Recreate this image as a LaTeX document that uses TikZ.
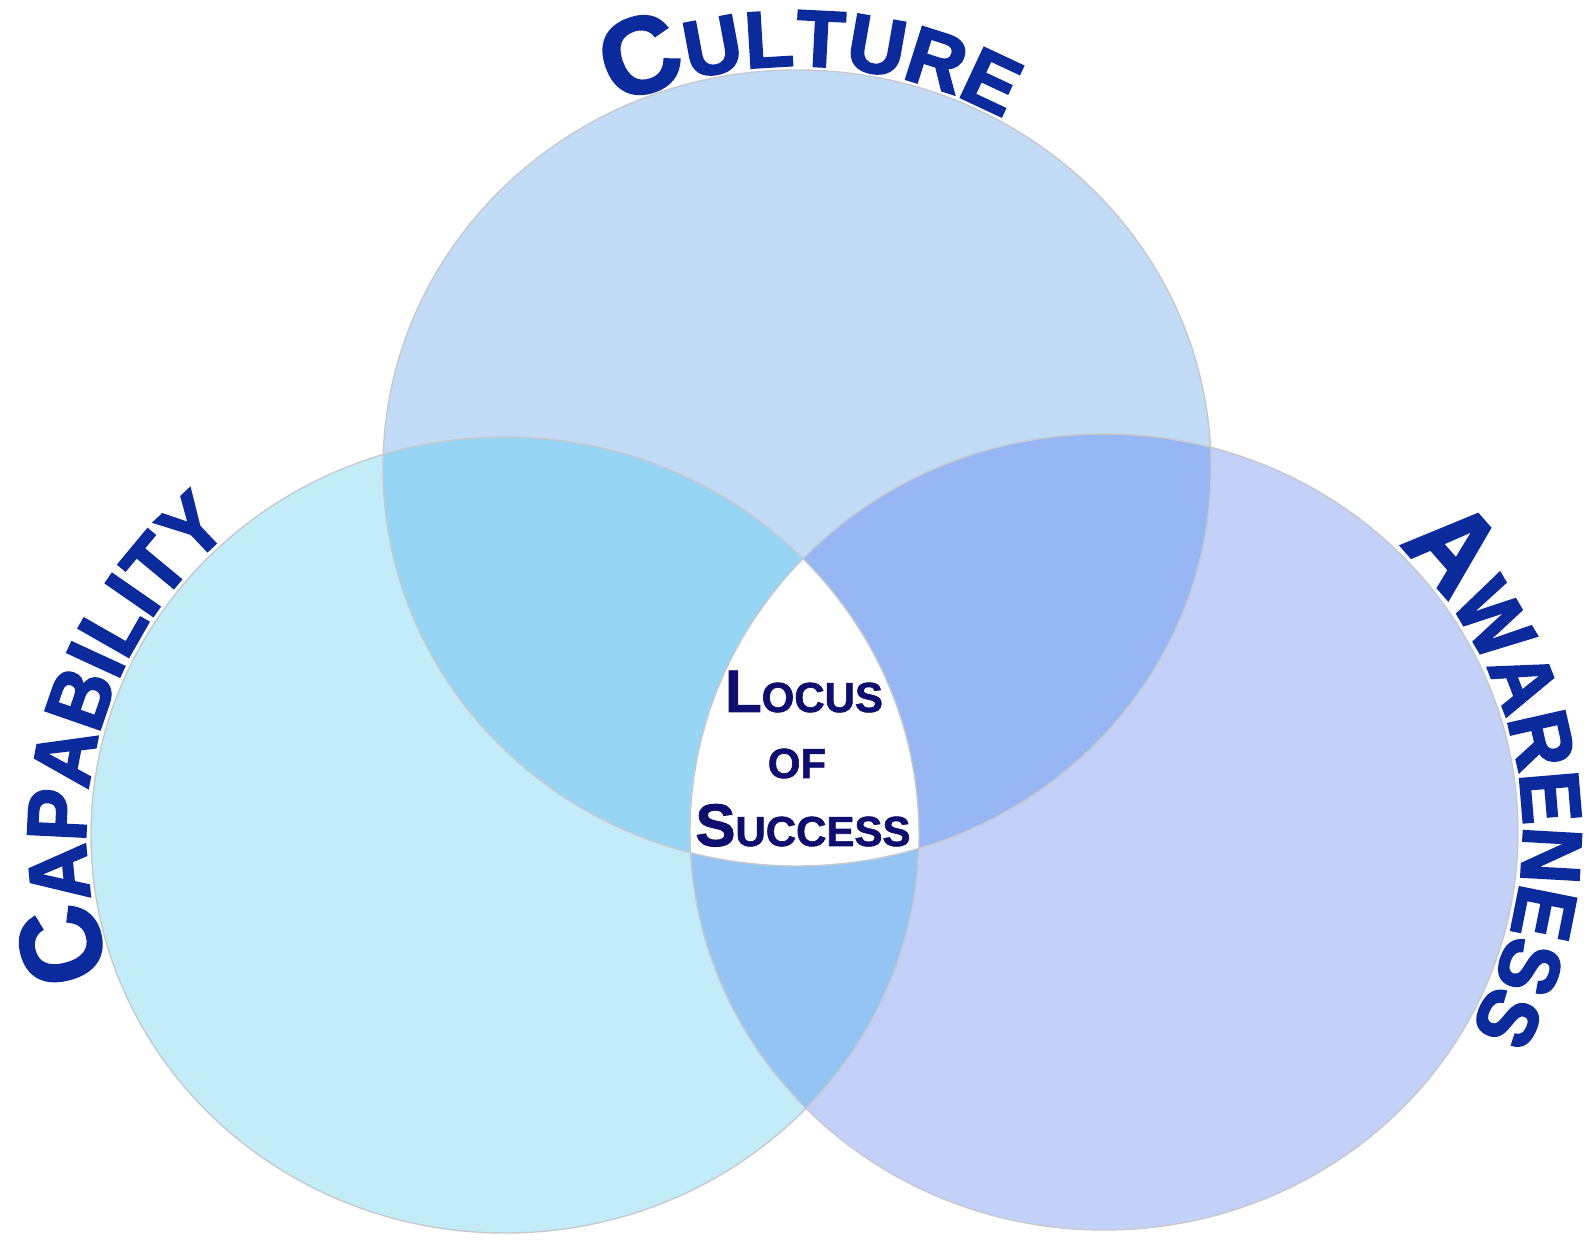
\documentclass[tikz,border=0pt]{standalone}
\usepackage{fontspec}
\setmainfont{Liberation Sans}[UprightFont={* Bold}, BoldFont={* Bold}]
\newfontfamily\labfont{Liberation Sans}[UprightFont={* Bold}, FakeBold=2.5]
\newfontfamily\labfontn{Liberation Sans}[UprightFont={* Bold}, FakeBold=2.5, FakeStretch=0.93]
\newfontfamily\locfont{Liberation Sans}[UprightFont={* Bold}, FakeBold=1.5]
\usetikzlibrary{decorations.text}
\definecolor{topc}{HTML}{C2DCF7}
\definecolor{leftc}{HTML}{C3ECF9}
\definecolor{rightc}{HTML}{C3D1F8}
\definecolor{tlc}{HTML}{96D5F3}
\definecolor{trc}{HTML}{97B7F4}
\definecolor{lrc}{HTML}{94C4F3}
\definecolor{edgec}{HTML}{C6CACF}
\definecolor{labc}{HTML}{0B2B9C}
\definecolor{locc}{HTML}{0E0E6E}
\newcommand\cvbig{\labfontn\fontsize{114}{114}\selectfont}
\newcommand\cvsmall{\labfontn\fontsize{84}{84}\selectfont}
\newcommand\cvtop{\labfont\fontsize{108}{108}\selectfont}
\newcommand\cvtopsmall{\labfont\fontsize{80}{80}\selectfont}
\newcommand\lcbig{\locfont\fontsize{60}{60}\selectfont}
\newcommand\lcsmall{\locfont\fontsize{42}{42}\selectfont}
\tikzset{
  ell/.style={x radius=414pt, y radius=398pt},
  edgeline/.style={draw=edgec, line width=1.4pt},
  loctext/.style={anchor=base, text=locc, inner sep=0pt},
  curvlab/.style={decorate, decoration={text along path, text color=labc, text align=center, text={#1}}}
}
\begin{document}
\begin{tikzpicture}[x=1pt,y=1pt]
\fill[white] (0,0) rectangle (1589,1240);
\useasboundingbox (0,0) rectangle (1589,1240);
\coordinate (T) at (797,772);
\coordinate (L) at (505,405);
\coordinate (R) at (1104,408);
% base fills
\fill[topc] (T) ellipse[ell];
\fill[leftc] (L) ellipse[ell];
\fill[rightc] (R) ellipse[ell];
% pairwise overlaps
\begin{scope}
  \clip (T) ellipse[ell];
  \fill[tlc] (L) ellipse[ell];
  \fill[trc] (R) ellipse[ell];
\end{scope}
\begin{scope}
  \clip (L) ellipse[ell];
  \fill[lrc] (R) ellipse[ell];
\end{scope}
% triple overlap
\begin{scope}
  \clip (T) ellipse[ell];
  \clip (L) ellipse[ell];
  \fill[white] (R) ellipse[ell];
\end{scope}
% outlines
\draw[edgeline] (T) ellipse[ell];
\draw[edgeline] (L) ellipse[ell];
\draw[edgeline] (R) ellipse[ell];
% curved labels
\path[curvlab={|\cvtop|C|\cvtopsmall|ULTURE}]
  (T) ++(123:418pt and 402pt) arc[start angle=123, end angle=53, x radius=418pt, y radius=402pt];
\path[curvlab={|\cvbig|C|\cvsmall|APABILITY}]
  (L) ++(214.5:419pt and 403pt) arc[start angle=214.5, end angle=116.5, x radius=419pt, y radius=403pt];
\path[curvlab={|\cvbig|A|\cvsmall|WARENESS}]
  (R) ++(58:419pt and 403pt) arc[start angle=58, end angle=-42, x radius=419pt, y radius=403pt];
% locus
\node[loctext] (locus) at (804,528) {{\lcbig L}{\lcsmall OCUS}};
\node[loctext] (of) at (797,462) {{\lcsmall OF}};
\node[loctext] (success) at (803,394) {{\lcbig S}{\lcsmall UCCESS}};
\end{tikzpicture}
\end{document}
